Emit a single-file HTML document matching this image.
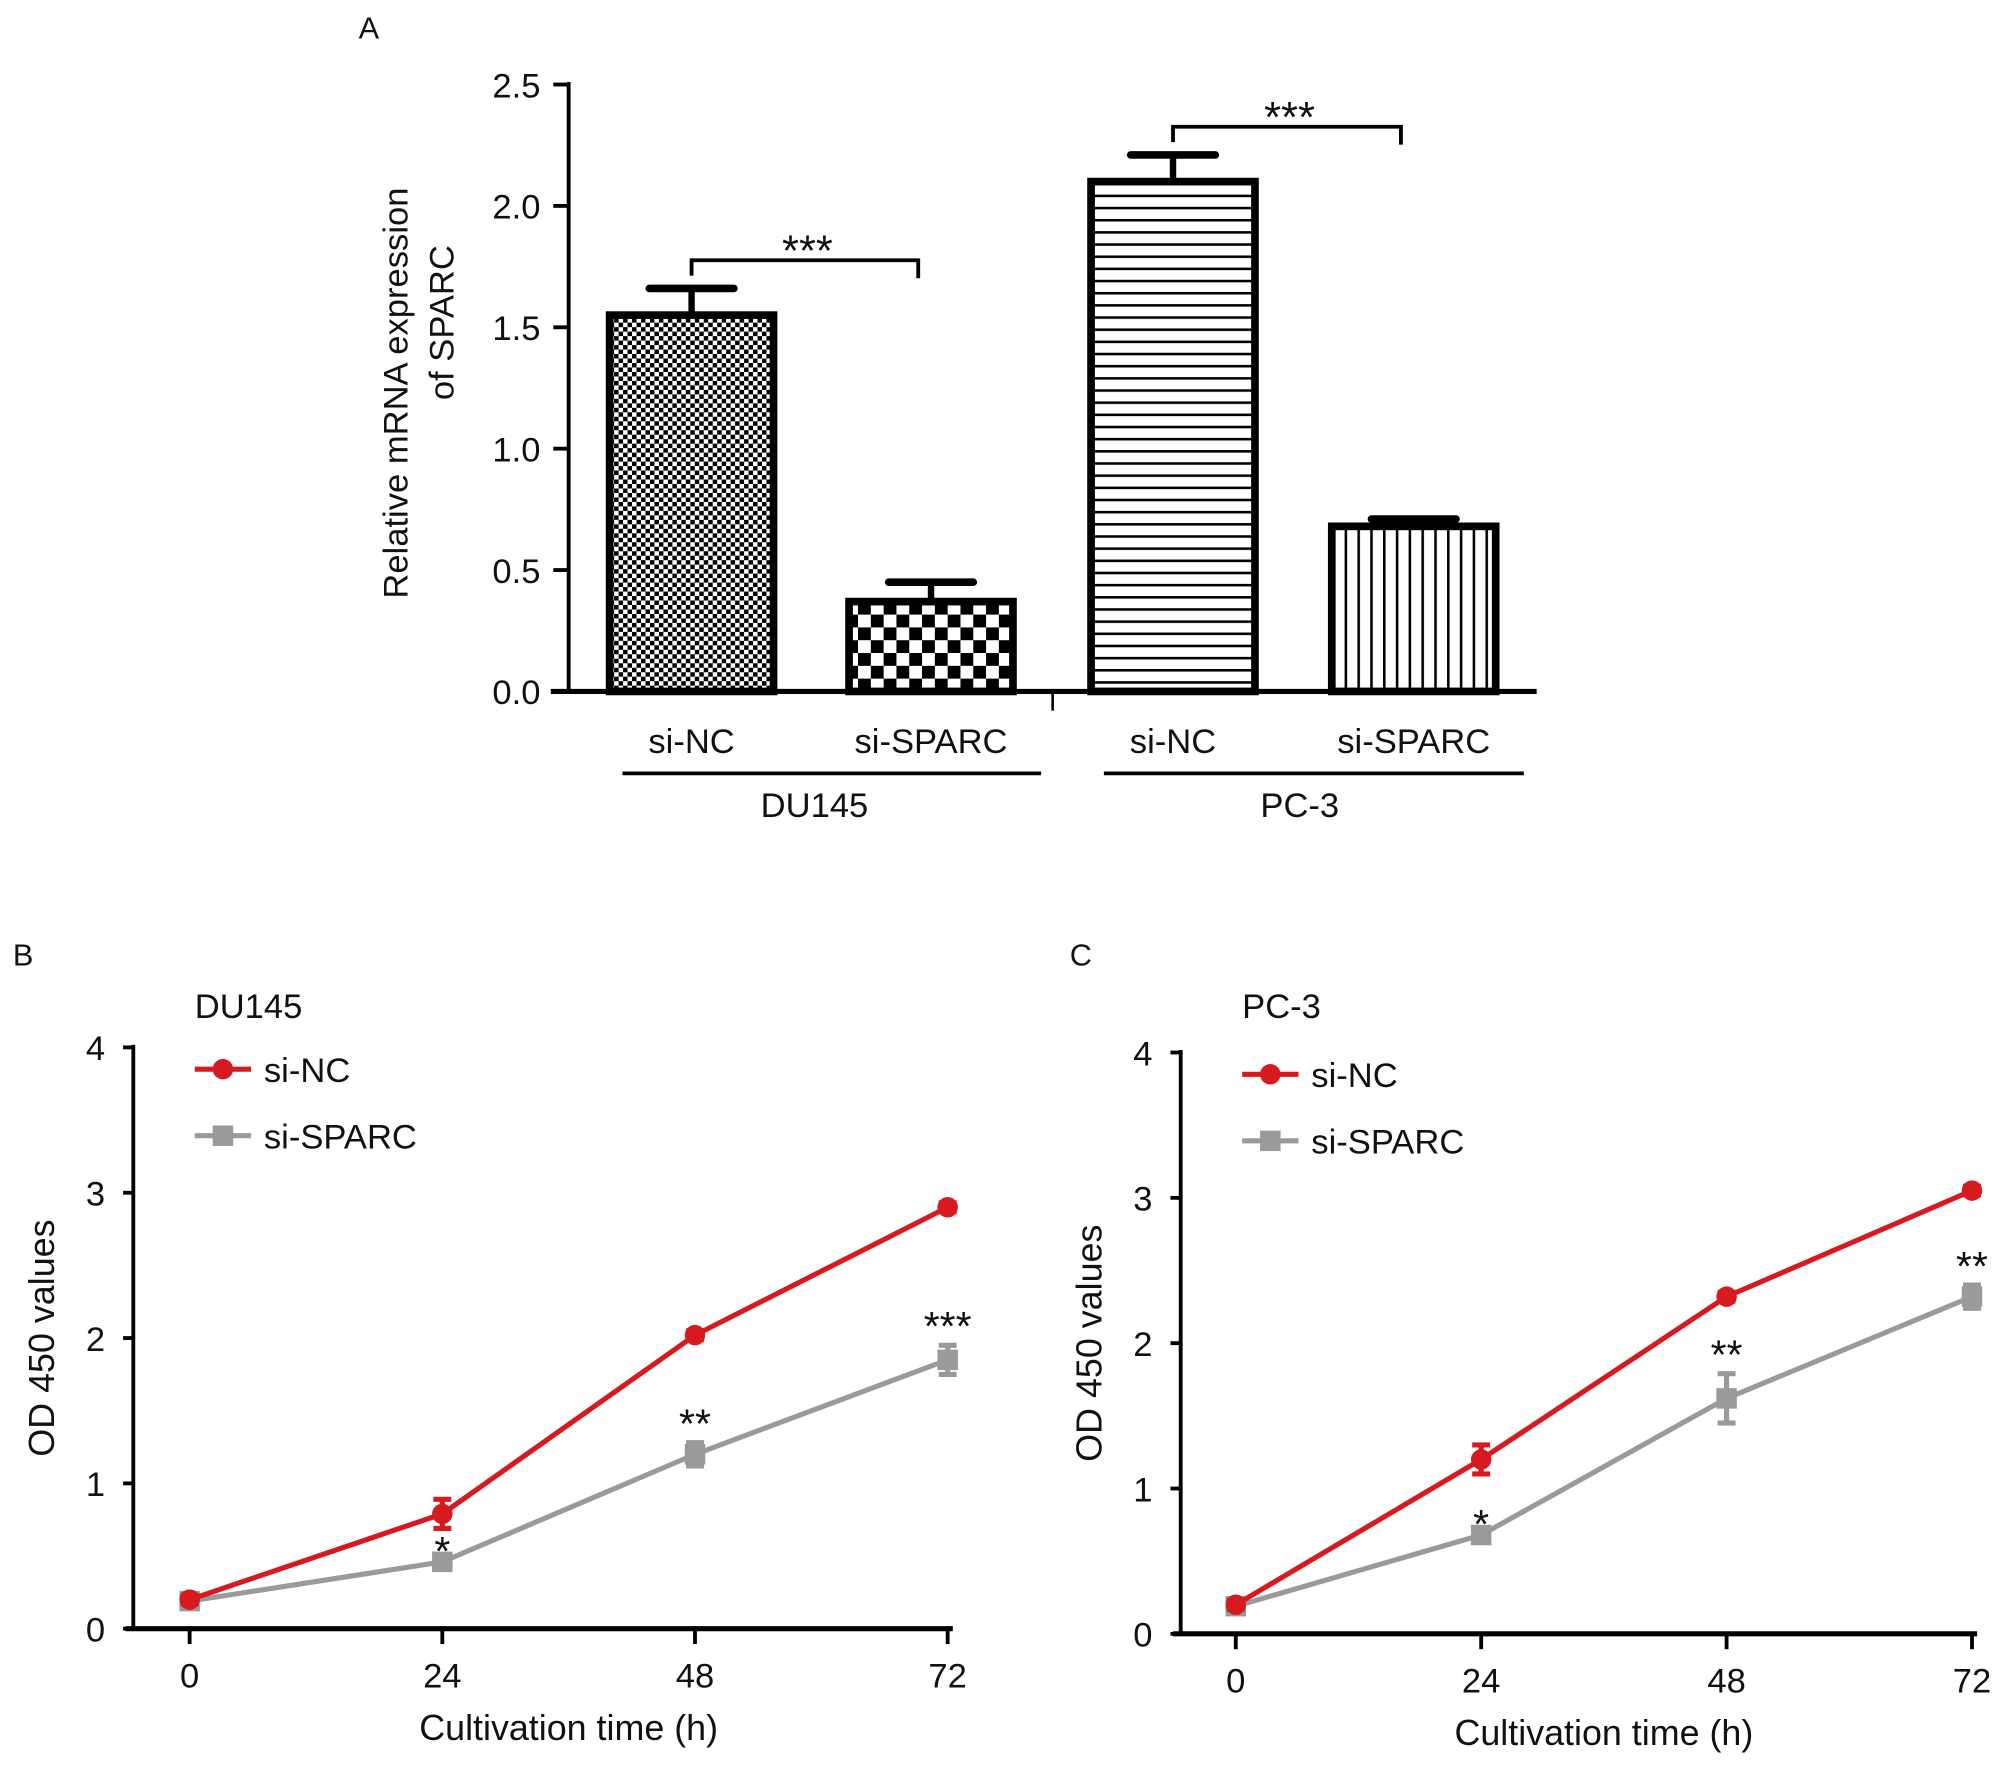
<!DOCTYPE html>
<html><head><meta charset="utf-8"><style>
html,body{margin:0;padding:0;background:#fff}
svg{display:block}
text{font-family:"Liberation Sans",Arial,sans-serif;fill:#111}
</style></head><body>
<svg id="fig" width="2008" height="1767" viewBox="0 0 1568 1380" xmlns="http://www.w3.org/2000/svg">
<defs>
<pattern id="pFine" width="7" height="7" patternUnits="userSpaceOnUse"><rect width="7" height="7" fill="#fff"/><rect width="3.5" height="3.5" fill="#000"/><rect x="3.5" y="3.5" width="3.5" height="3.5" fill="#000"/></pattern>
<pattern id="pCoarse" width="20" height="20" patternUnits="userSpaceOnUse"><rect width="20" height="20" fill="#fff"/><rect width="10" height="10" fill="#000"/><rect x="10" y="10" width="10" height="10" fill="#000"/></pattern>
<pattern id="pHor" width="10" height="9.5" patternUnits="userSpaceOnUse"><rect width="10" height="9.5" fill="#fff"/><rect y="0" width="10" height="2" fill="#000"/></pattern>
<pattern id="pVer" width="10" height="10" patternUnits="userSpaceOnUse"><rect width="10" height="10" fill="#fff"/><rect x="0" width="2" height="10" fill="#000"/></pattern>
</defs>
<g id="A"></g>
<g id="B"></g>
<g id="C"></g>
</svg>
<script>
// Panel A data
const barCats = ["si-NC","si-SPARC","si-NC","si-SPARC"];
const barValues = [1.55, 0.37, 2.10, 0.68];
const barErrors = [0.11, 0.08, 0.11, 0.03];
const barTicks = [0, 0.5, 1.0, 1.5, 2.0, 2.5];
const groups = ["DU145","PC-3"];
// Panel B/C data
const timeCats = [0, 24, 48, 72];
const odTicks = [0, 1, 2, 3, 4];
const duNC = [0.2, 0.79, 2.02, 2.9];
const duNCerr = [0.03, 0.1, 0.03, 0.03];
const duSP = [0.19, 0.46, 1.2, 1.85];
const duSPerr = [0.04, 0.05, 0.08, 0.1];
const duStars = ["", "*", "**", "***"];
const pcNC = [0.2, 1.2, 2.32, 3.05];
const pcNCerr = [0.03, 0.1, 0.03, 0.03];
const pcSP = [0.19, 0.68, 1.62, 2.32];
const pcSPerr = [0.04, 0.05, 0.17, 0.08];
const pcStars = ["", "*", "**", "**"];

const NS="http://www.w3.org/2000/svg";
function mk(parent,tag,attrs,txt){const e=document.createElementNS(NS,tag);for(const k in attrs)e.setAttribute(k,attrs[k]);if(txt!==undefined)e.textContent=txt;parent.appendChild(e);return e;}

// ---- Panel A ----
(function(){
const g=document.getElementById('A');
const y0=540,y1=66,vmax=2.5;
const ys=v=>y0-(v/vmax)*(y0-y1);
const barX=[476,663,852,1040], bw=128;
const fills=["url(#pFine)","url(#pCoarse)","url(#pHor)","url(#pVer)"];
let t=mk(g,'text',{x:288,y:30,'font-size':24,'text-anchor':'middle'},'A');

let ax=mk(g,'line',{x1:444,y1:64,x2:444,y2:542,stroke:'#000','stroke-width':3});

barTicks.forEach(v=>{
 const y=ys(v);
 let tk=mk(g,'line',{x1:432,y1:y,x2:444,y2:y,stroke:'#000','stroke-width':3});
 
 let tl=mk(g,'text',{x:422,y:y+10,'font-size':27,'text-anchor':'end'},v.toFixed(1));
 
});
let yt=mk(g,'text',{transform:'translate(318,307) rotate(-90)','font-size':27,'text-anchor':'middle'},'Relative mRNA expression');

let yt2=mk(g,'text',{transform:'translate(354,252) rotate(-90)','font-size':27,'text-anchor':'middle'},'of SPARC');

barValues.forEach((v,i)=>{
 const x=barX[i],cx=x+bw/2,top=ys(v),et=ys(v+barErrors[i]);
 let el=mk(g,'line',{x1:cx,y1:top,x2:cx,y2:et,stroke:'#000','stroke-width':5});
 
 let cp=mk(g,'line',{x1:cx-33,y1:et,x2:cx+33,y2:et,stroke:'#000','stroke-width':6,'stroke-linecap':'round'});
 
 let r=mk(g,'rect',{x:x,y:top,width:bw,height:y0-top,fill:fills[i],stroke:'#000','stroke-width':6});
 
 let l=mk(g,'text',{x:cx,y:588,'font-size':27,'text-anchor':'middle'},barCats[i]);
 
});
let xa=mk(g,'line',{x1:430,y1:y0,x2:1200,y2:y0,stroke:'#000','stroke-width':4});

let mt=mk(g,'line',{x1:822,y1:y0,x2:822,y2:555,stroke:'#000','stroke-width':2});

// brackets
const groupCenters=[636,1015];
[[0,1],[2,3]].forEach((p,k)=>{
 const xa1=barX[p[0]]+bw/2, xb=barX[p[1]]+bw/2-10;
 const top=Math.min(ys(barValues[p[0]]+barErrors[p[0]]),ys(barValues[p[1]]+barErrors[p[1]]))-22;
 let b=mk(g,'path',{d:`M${xa1},${top+12} V${top} H${xb} V${top+14}`,fill:'none',stroke:'#000','stroke-width':3});
 
 let s=mk(g,'text',{x:(xa1+xb)/2+2,y:top+4,'font-size':34,'text-anchor':'middle'},'***');
 
 const gx1=k===0?486:862,gx2=k===0?813:1190;
 let gl=mk(g,'line',{x1:gx1,y1:604,x2:gx2,y2:604,stroke:'#000','stroke-width':3});
 
 let gt=mk(g,'text',{x:groupCenters[k],y:638,'font-size':27,'text-anchor':'middle'},groups[k]);
 
});
})();

// ---- Line panels ----
function linePanel(id,letter,lx,title,ax0,yTop,yBot,xPos,nc,ncErr,sp,spErr,stars){
 const g=document.getElementById(id);
 const ys=v=>yBot-(v/4)*(yBot-yTop);
 const xs=t=>xPos[0]+(t/72)*(xPos[1]-xPos[0]);
 let L=mk(g,'text',{x:lx,y:754,'font-size':24,'text-anchor':'middle'},letter);
 
 let T=mk(g,'text',{x:ax0+48,y:795,'font-size':27},title);
 
 let ya=mk(g,'line',{x1:ax0,y1:yTop-2,x2:ax0,y2:yBot,stroke:'#000','stroke-width':3});
 
 odTicks.forEach(v=>{const y=ys(v);
  let tk=mk(g,'line',{x1:ax0-8,y1:y,x2:ax0,y2:y,stroke:'#000','stroke-width':3});
  
  let tl=mk(g,'text',{x:ax0-22,y:y+10,'font-size':27,'text-anchor':'end'},String(v));
  
 });
 let xa=mk(g,'line',{x1:ax0-6,y1:yBot,x2:xs(72)+4,y2:yBot,stroke:'#000','stroke-width':4});
 
 timeCats.forEach(t=>{const x=xs(t);
  let tk=mk(g,'line',{x1:x,y1:yBot,x2:x,y2:yBot+12,stroke:'#000','stroke-width':3});
  
  let tl=mk(g,'text',{x:x,y:yBot+46,'font-size':27,'text-anchor':'middle'},String(t));
  
 });
 let xt=mk(g,'text',{x:(xs(0)+xs(72))/2,y:yBot+87,'font-size':28,'text-anchor':'middle'},'Cultivation time (h)');
 
 let yt=mk(g,'text',{transform:`translate(${ax0-62},${(yTop+yBot)/2}) rotate(-90)`,'font-size':28,'text-anchor':'middle'},'OD 450 values');
 
 function series(vals,errs,color,sq,name){
  let p=mk(g,'polyline',{points:vals.map((v,i)=>xs(timeCats[i])+','+ys(v)).join(' '),fill:'none',stroke:color,'stroke-width':4});
  
  vals.forEach((v,i)=>{const x=xs(timeCats[i]),y=ys(v),e1=ys(v+errs[i]),e2=ys(v-errs[i]);
   let eb=mk(g,'path',{d:`M${x},${e1}V${e2}M${x-7},${e1}H${x+7}M${x-7},${e2}H${x+7}`,stroke:color,'stroke-width':4,fill:'none'});
   
   let m=sq?mk(g,'rect',{x:x-8,y:y-8,width:16,height:16,fill:color}):mk(g,'circle',{cx:x,cy:y,r:8,fill:color});
   
  });
 }
 series(sp,spErr,'#9a9a9a',true,'si-sparc');
 series(nc,ncErr,'#d71920',false,'si-nc');
 stars.forEach((s,i)=>{if(!s)return;const x=xs(timeCats[i]),y=ys(sp[i]+spErr[i]);
  let st=mk(g,'text',{x:x,y:y-4+(i===1?12:0),'font-size':32,'text-anchor':'middle'},s);
  
 });
 // legend
 const lgx=ax0+48;
 const lg=[['si-NC','#d71920',false,yTop+17],['si-SPARC','#9a9a9a',true,yTop+69]];
 lg.forEach(e=>{
  let ll=mk(g,'line',{x1:lgx,y1:e[3],x2:lgx+44,y2:e[3],stroke:e[1],'stroke-width':4});
  
  let lm=e[2]?mk(g,'rect',{x:lgx+14,y:e[3]-8,width:16,height:16,fill:e[1]}):mk(g,'circle',{cx:lgx+22,cy:e[3],r:8,fill:e[1]});
  
  let lt=mk(g,'text',{x:lgx+54,y:e[3]+10,'font-size':27},e[0]);
  
 });
}
linePanel('B','B',18,'DU145',104,818,1272,[148,740],duNC,duNCerr,duSP,duSPerr,duStars);
linePanel('C','C',844,'PC-3',922,822,1276,[965,1540],pcNC,pcNCerr,pcSP,pcSPerr,pcStars);
</script>
</body></html>
